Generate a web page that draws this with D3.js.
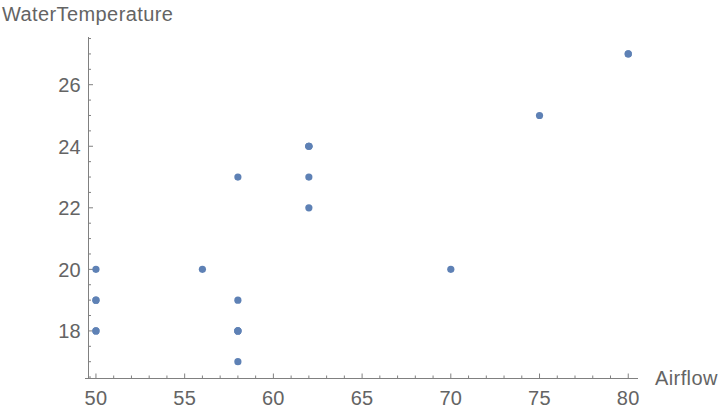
<!DOCTYPE html>
<html>
<head>
<meta charset="utf-8">
<script src="https://cdnjs.cloudflare.com/ajax/libs/d3/7.8.5/d3.min.js"></script>
<style>
  body { margin: 0; background: #fff; }
  text { font-family: "Liberation Sans", Arial, sans-serif; }
</style>
</head>
<body>
<div id="chart"></div>
<script>
// stack loss data: air flow vs water temperature
var airflow   = [80,80,75,62,62,62,62,62,58,58,58,58,58,58,50,50,50,50,50,56,70];
var waterTemp = [27,27,25,24,22,23,24,24,23,18,18,17,18,19,18,18,19,19,20,20,20];
var xTicks = [50,55,60,65,70,75,80];
var yTicks = [18,20,22,24,26];

var width = 720, height = 410;
var textColor = "#646464", axisColor = "#808080";
var fontSize = 20;

var svg = d3.select("#chart").append("svg")
    .attr("width", width).attr("height", height);

var x = d3.scaleLinear().domain([49.58, 80.55]).range([88.5, 638]);
var y = d3.scaleLinear().domain([16.47, 27.55]).range([378, 37]);

// minor ticks
var xMinor = d3.range(50, 81, 1).filter(function(d){ return xTicks.indexOf(d) < 0; });
var yMinor = d3.range(16.5, 27.6, 0.5).filter(function(d){ return yTicks.indexOf(d) < 0; });

// x axis
var xg = svg.append("g");
xg.append("line")
    .attr("x1", 85).attr("x2", 638)
    .attr("y1", 378.5).attr("y2", 378.5)
    .attr("stroke", axisColor);
xg.selectAll(".xmaj").data(xTicks).enter().append("line")
    .attr("x1", function(d){ return x(d); }).attr("x2", function(d){ return x(d); })
    .attr("y1", 378).attr("y2", 373.5)
    .attr("stroke", axisColor);
xg.selectAll(".xmin").data(xMinor).enter().append("line")
    .attr("x1", function(d){ return x(d); }).attr("x2", function(d){ return x(d); })
    .attr("y1", 378).attr("y2", 375.5)
    .attr("stroke", axisColor);
xg.selectAll(".xlab").data(xTicks).enter().append("text")
    .text(function(d){ return d; })
    .attr("x", function(d){ return x(d); })
    .attr("y", 404.5)
    .attr("text-anchor", "middle")
    .attr("font-size", fontSize)
    .attr("letter-spacing", 0.3)
    .attr("fill", textColor);

// y axis
var yg = svg.append("g");
yg.append("line")
    .attr("x1", 88.5).attr("x2", 88.5)
    .attr("y1", 37).attr("y2", 378)
    .attr("stroke", axisColor);
yg.selectAll(".ymaj").data(yTicks).enter().append("line")
    .attr("x1", 88.5).attr("x2", 93)
    .attr("y1", function(d){ return y(d); }).attr("y2", function(d){ return y(d); })
    .attr("stroke", axisColor);
yg.selectAll(".ymin").data(yMinor).enter().append("line")
    .attr("x1", 88.5).attr("x2", 91)
    .attr("y1", function(d){ return y(d); }).attr("y2", function(d){ return y(d); })
    .attr("stroke", axisColor);
yg.selectAll(".ylab").data(yTicks).enter().append("text")
    .text(function(d){ return d; })
    .attr("x", 81)
    .attr("y", function(d){ return y(d) + 7.5; })
    .attr("text-anchor", "end")
    .attr("font-size", fontSize)
    .attr("letter-spacing", 0.3)
    .attr("fill", textColor);

// axis labels
svg.append("text").text("WaterTemperature")
    .attr("x", 2).attr("y", 21)
    .attr("font-size", fontSize).attr("letter-spacing", 0.4)
    .attr("fill", textColor);
svg.append("text").text("Airflow")
    .attr("x", 655).attr("y", 385)
    .attr("font-size", fontSize).attr("letter-spacing", 0.4)
    .attr("fill", textColor);

// points
svg.selectAll("circle").data(airflow).enter().append("circle")
    .attr("cx", function(d){ return x(d); })
    .attr("cy", function(d,i){ return y(waterTemp[i]); })
    .attr("r", 3.6)
    .attr("fill", "#5e81b5");
</script>
</body>
</html>
